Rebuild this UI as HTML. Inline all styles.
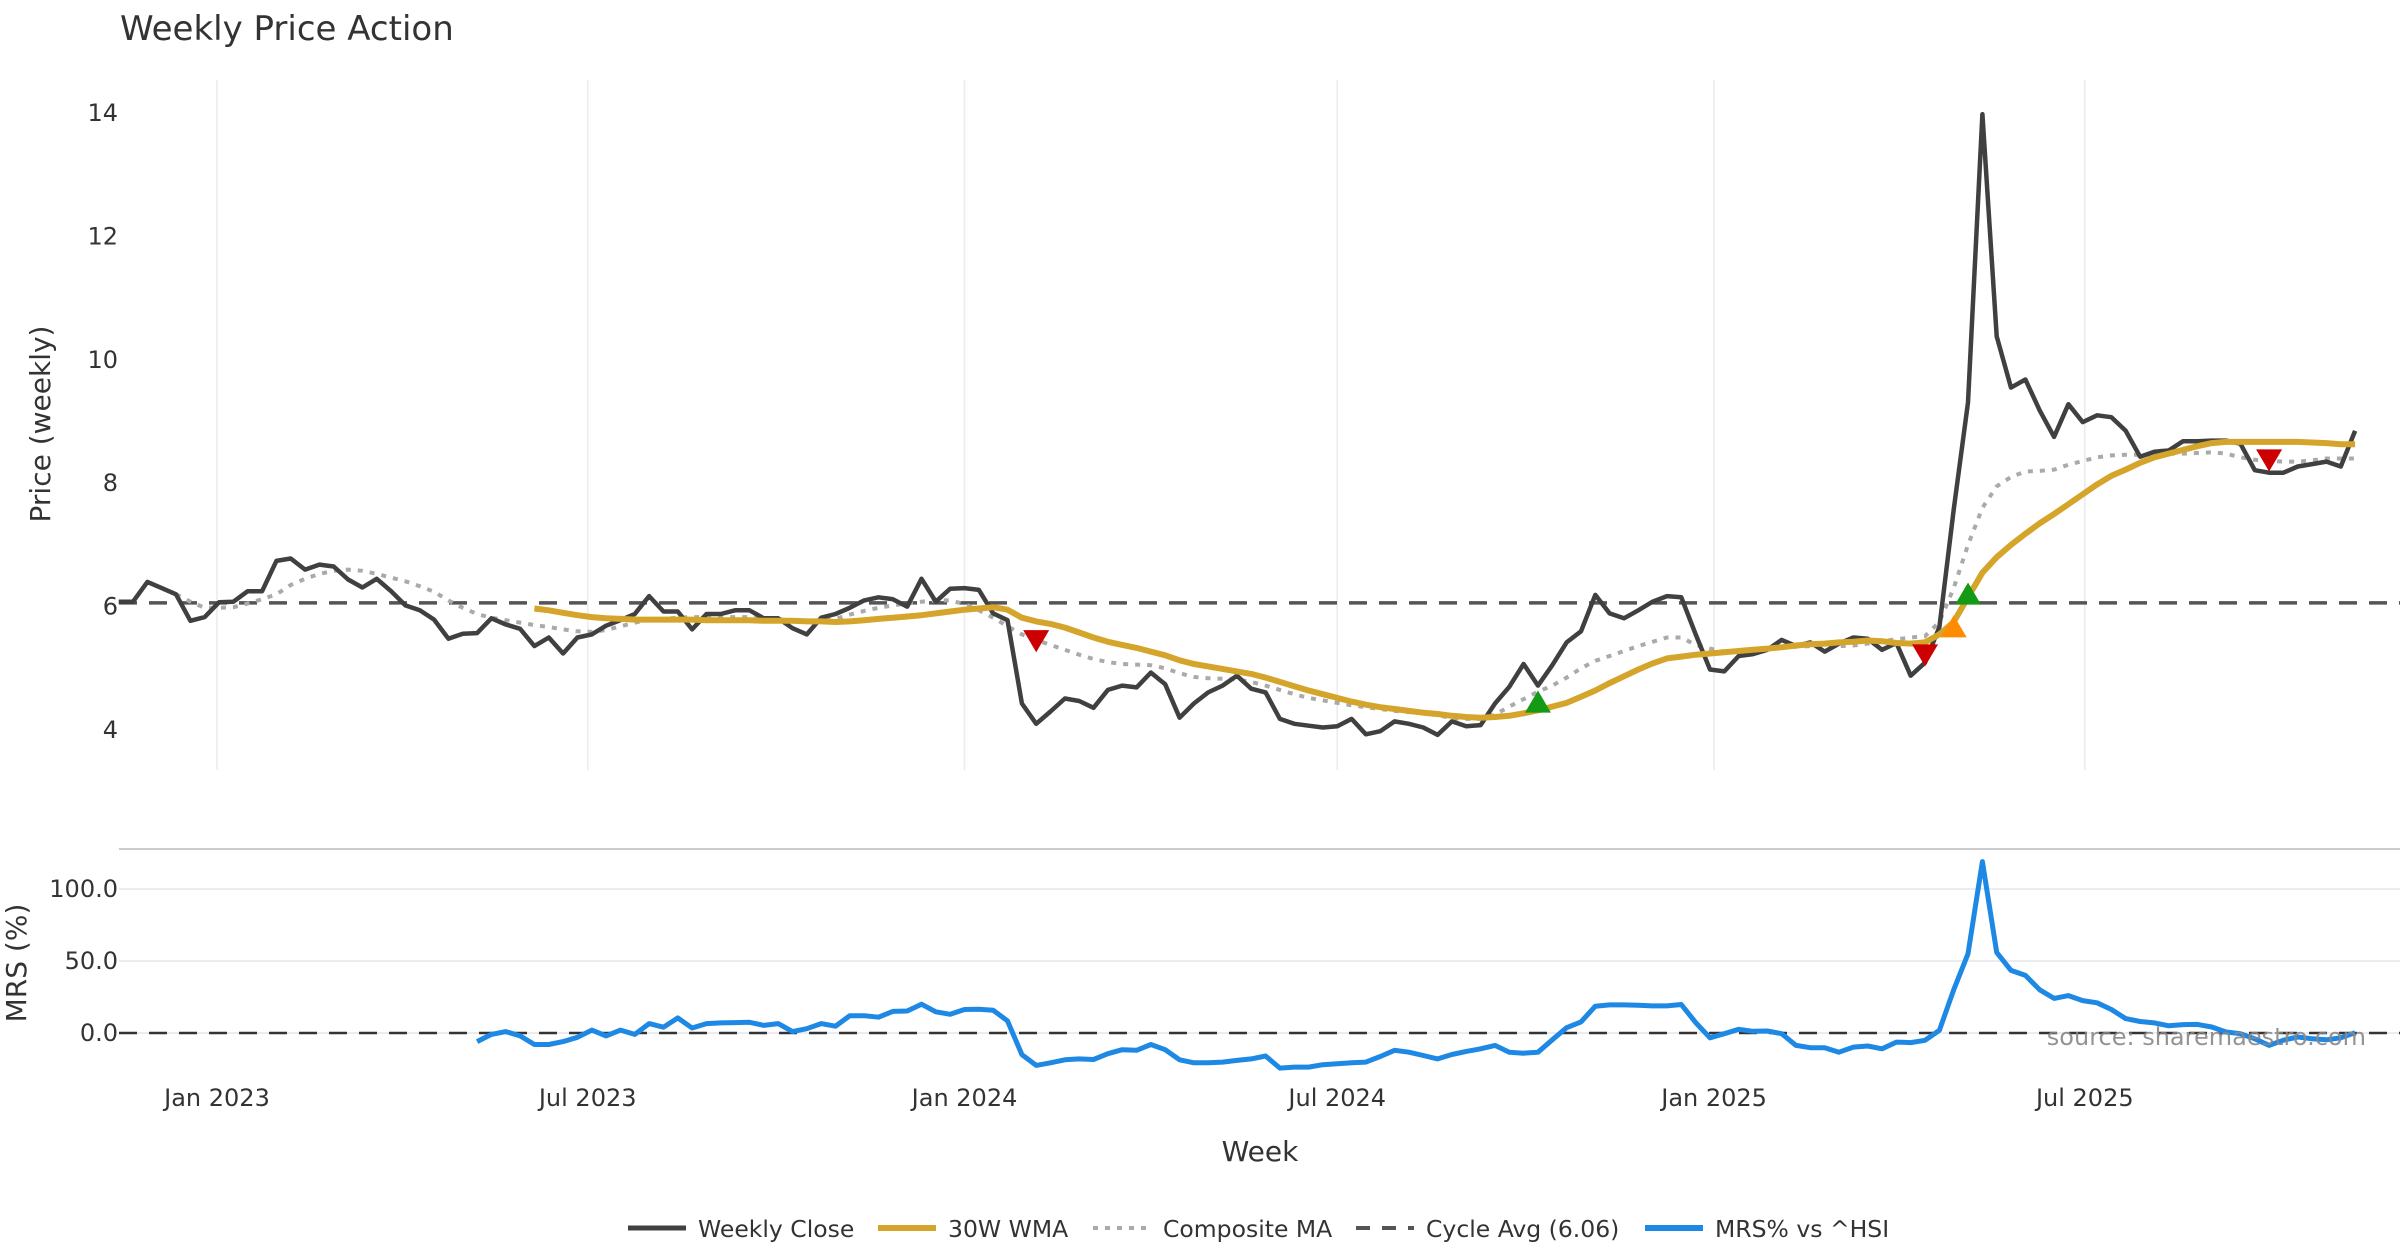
<!DOCTYPE html>
<html><head><meta charset="utf-8"><style>
html,body{margin:0;padding:0;background:#fff;}
svg{display:block;font-family:"DejaVu Sans","Liberation Sans",sans-serif;}
</style></head><body>
<svg id="chart" width="2400" height="1260" viewBox="0 0 2400 1260" xmlns="http://www.w3.org/2000/svg">
<rect x="0" y="0" width="2400" height="1260" fill="#fff"/>
<text x="120" y="40" font-size="34" fill="#333">Weekly Price Action</text>
<text transform="translate(50,424) rotate(-90)" text-anchor="middle" font-size="28" fill="#333">Price (weekly)</text>
<text transform="translate(26,963) rotate(-90)" text-anchor="middle" font-size="28" fill="#333">MRS (%)</text>
<text x="1260" y="1161" text-anchor="middle" font-size="28" fill="#333">Week</text>
<g id="grid"></g>
<g id="series"></g>
<g id="ticks"></g>
<text x="2366" y="1045" text-anchor="end" font-size="24" fill="#888" opacity="0.9">source: sharemaestro.com</text>
<g id="legend"></g>
</svg>
<script>
const startDate = Date.UTC(2022,10,14);
const closeVals = [6.08,6.08,6.4,6.3,6.2,5.77,5.83,6.07,6.08,6.25,6.25,6.74,6.78,6.6,6.68,6.65,6.44,6.31,6.45,6.25,6.02,5.94,5.79,5.48,5.56,5.57,5.81,5.71,5.64,5.36,5.5,5.24,5.5,5.55,5.69,5.78,5.88,6.17,5.92,5.92,5.63,5.88,5.88,5.94,5.94,5.81,5.81,5.65,5.55,5.82,5.88,5.98,6.1,6.15,6.12,6.0,6.45,6.08,6.29,6.3,6.27,5.89,5.78,4.43,4.1,4.3,4.51,4.47,4.36,4.65,4.72,4.69,4.93,4.74,4.2,4.43,
4.61,4.72,4.88,4.67,4.61,4.18,4.1,4.07,4.04,4.06,4.18,3.93,3.98,4.14,4.1,4.04,3.92,4.14,4.06,4.08,4.43,4.7,5.07,4.72,5.05,5.42,5.6,6.19,5.89,5.81,5.94,6.08,6.17,6.15,5.55,4.98,4.95,5.2,5.23,5.3,5.46,5.36,5.42,5.27,5.4,5.5,5.48,5.3,5.41,4.88,5.09,5.67,7.57,9.31,13.98,10.38,9.55,9.68,9.18,8.75,9.28,8.99,9.1,9.07,8.85,8.43,8.51,8.53,8.68,8.68,8.69,8.69,8.64,8.21,8.17,8.17,8.27,8.31,8.35,8.27,8.85];
const wmaStart = 29;
const wmaVals = [5.97,5.94,5.90,5.86,5.83,5.81,5.80,5.79,5.79,5.79,5.79,5.79,5.78,5.78,5.78,5.78,5.77,5.77,5.77,5.76,5.76,5.75,5.76,5.78,5.80,5.82,5.84,5.86,5.89,5.92,5.95,5.97,5.99,5.95,5.82,5.76,5.72,5.66,5.58,5.50,5.43,5.38,5.33,5.27,5.21,5.13,5.07,5.03,4.99,4.95,4.91,4.85,4.78,4.71,4.64,4.58,4.52,4.46,4.41,4.37,4.34,4.31,4.28,4.26,4.23,4.21,4.20,4.21,4.23,4.27,4.32,4.38,4.44,4.54,4.64,4.76,4.87,4.98,5.08,5.16,5.19,5.22,5.24,5.26,5.28,5.30,5.32,5.34,5.37,5.39,5.40,5.42,5.43,5.45,5.44,5.41,5.40,5.42,5.55,5.75,6.15,6.55,6.80,7.00,7.18,7.35,7.50,7.66,7.82,7.98,8.12,8.22,8.33,8.42,8.48,8.54,8.60,8.65,8.67,8.67,8.67,8.67,8.67,8.67,8.66,8.65,8.63,8.63];
const compStart = 4;
const compVals = [6.2,6.08,5.98,5.98,5.99,6.05,6.12,6.2,6.35,6.45,6.53,6.58,6.6,6.58,6.53,6.47,6.41,6.33,6.24,6.1,5.98,5.88,5.82,5.78,5.74,5.70,5.67,5.63,5.60,5.59,5.62,5.68,5.74,5.78,5.80,5.82,5.83,5.83,5.83,5.83,5.83,5.82,5.80,5.77,5.75,5.76,5.80,5.87,5.93,5.98,6.02,6.05,6.08,6.10,6.10,6.04,5.94,5.82,5.68,5.55,5.46,5.38,5.30,5.22,5.15,5.10,5.07,5.06,5.05,5.00,4.92,4.86,
4.84,4.83,4.82,4.78,4.72,4.65,4.58,4.52,4.48,4.44,4.40,4.37,4.34,4.31,4.29,4.27,4.24,4.19,4.18,4.18,4.25,4.38,4.50,4.62,4.72,4.85,5.0,5.12,5.2,5.28,5.36,5.43,5.50,5.50,5.38,5.32,5.27,5.28,5.30,5.32,5.34,5.35,5.36,5.36,5.36,5.37,5.40,5.44,5.47,5.5,5.52,5.75,6.3,7.0,7.6,7.95,8.1,8.19,8.2,8.22,8.3,8.36,8.42,8.45,8.46,8.46,8.47,8.48,8.48,8.49,8.50,8.48,8.42,8.38,8.36,8.35,8.35,8.37,8.40,8.40,8.40];
const mrsStart = 25;
const mrsVals = [-6,-1,1,-2,-8,-8,-6,-3,2,-2,2,-1,6.5,4,10.5,3.5,6.5,7,7.2,7.4,5.3,6.5,1,3,6.5,4.7,12,12,11,15,15.3,20,14.7,13,16.3,16.5,15.8,8.4,-15,-22.5,-20.7,-18.6,-18,-18.4,-14.4,-11.6,-12,-8,-11.6,-18.6,-20.7,
-20.7,-20.2,-19,-18,-16,-24.4,-23.7,-23.7,-22,-21.4,-20.7,-20.2,-16.3,-12,-13.3,-15.6,-18,-14.9,-12.8,-11,-8.6,-13.3,-14,-13.3,-4.7,3.7,7.7,18.6,19.5,19.5,19.3,18.8,18.8,19.8,7.2,-3.3,-0.5,2.6,1.2,1.4,-0.5,-8.6,-10.2,-10.2,-13.3,-9.8,-9,-11,-6.3,-6.7,-5.1,1.9,30,55,119,56,43.5,40,30,24,26,22.5,21,16.3,10,8,7,5,5.8,6,4.2,0.7,-0.5,-4,-8.6,-5,-2.8,-4,-4.7,-3.3,0.2];
const cycleAvg = 6.06;
const sellIdx = [64,126,150];
const sellVals = [5.45,5.22,8.38];
const buyIdx = [99,129];
const buyVals = [4.45,6.2];
const warnIdx = [128];
const warnVals = [5.67];
const priceTicks = [4,6,8,10,12,14];
const mrsTicks = [0,50,100];
const mrsTickLabels = ["0.0","50.0","100.0"];
const dateTicks = [Date.UTC(2023,0,1),Date.UTC(2023,6,1),Date.UTC(2024,0,1),Date.UTC(2024,6,1),Date.UTC(2025,0,1),Date.UTC(2025,6,1)];
const dateTickLabels = ["Jan 2023","Jul 2023","Jan 2024","Jul 2024","Jan 2025","Jul 2025"];

const NS="http://www.w3.org/2000/svg";
const DAY=86400000;
const X0=Date.UTC(2023,0,1);
function xDate(t){return 217+(t-X0)/DAY*2.048;}
function xIdx(i){return xDate(startDate+i*7*DAY);}
function yP(v){return 730-(v-4)*61.7;}
function yM(v){return 1033-v*1.44;}
function mk(tag,attrs,parent){const e=document.createElementNS(NS,tag);for(const k in attrs)e.setAttribute(k,attrs[k]);parent.appendChild(e);return e;}
const grid=document.getElementById('grid'),ser=document.getElementById('series'),tk=document.getElementById('ticks'),lg=document.getElementById('legend');

dateTicks.forEach((t,i)=>{
  const l=mk('line',{x1:xDate(t),x2:xDate(t),y1:80,y2:770,stroke:'#ebebf0','stroke-width':1.5},grid);
  
  
  const tx=mk('text',{x:xDate(t),y:1106,'text-anchor':'middle','font-size':24,fill:'#333'},tk);
  tx.textContent=dateTickLabels[i];
  
  
});
priceTicks.forEach(v=>{
  const tx=mk('text',{x:118,y:yP(v)+8,'text-anchor':'end','font-size':24,fill:'#333'},tk);
  tx.textContent=String(v);
  
  
});
mrsTicks.forEach((v,i)=>{
  const l=mk('line',{x1:119,x2:2400,y1:yM(v),y2:yM(v),stroke:'#ebebf2','stroke-width':2},grid);
  
  
  const tx=mk('text',{x:118,y:yM(v)+8,'text-anchor':'end','font-size':24,fill:'#333'},tk);
  tx.textContent=mrsTickLabels[i];
  
  
});
const sep=mk('line',{x1:119,x2:2400,y1:849,y2:849,stroke:'#ccc','stroke-width':2},grid);



const cyc=mk('line',{x1:119,x2:2400,y1:yP(cycleAvg),y2:yP(cycleAvg),stroke:'#555','stroke-width':3.5,'stroke-dasharray':'18,12'},ser);


const zl=mk('line',{x1:119,x2:2400,y1:yM(0),y2:yM(0),stroke:'#333','stroke-width':2.5,'stroke-dasharray':'18,12'},ser);



function pts(vals,start,yf){return vals.map((v,i)=>xIdx(start+i).toFixed(1)+','+yf(v).toFixed(1)).join(' ');}
const comp=mk('polyline',{points:pts(compVals,compStart,yP),fill:'none',stroke:'#aaaaaa','stroke-width':4,'stroke-dasharray':'5,7'},ser);


const cl=mk('polyline',{points:pts(closeVals,0,yP),fill:'none',stroke:'#404040','stroke-width':4.5,'stroke-linejoin':'round'},ser);


const wma=mk('polyline',{points:pts(wmaVals,wmaStart,yP),fill:'none',stroke:'#D4A52A','stroke-width':6,'stroke-linejoin':'round'},ser);


const mrs=mk('polyline',{points:pts(mrsVals,mrsStart,yM),fill:'none',stroke:'#1E88E5','stroke-width':5,'stroke-linejoin':'round'},ser);



function tri(x,y,up,color,name){
  const s=13;
  const p=up?`${x-s},${y+s*0.8} ${x+s},${y+s*0.8} ${x},${y-s*0.9}`:`${x-s},${y-s*0.8} ${x+s},${y-s*0.8} ${x},${y+s*0.9}`;
  const e=mk('polygon',{points:p,fill:color},ser);
  
  
}
sellIdx.forEach((d,i)=>tri(xIdx(d),yP(sellVals[i]),false,'#CC0000','sell-signal-marker'));
buyIdx.forEach((d,i)=>tri(xIdx(d),yP(buyVals[i]),true,'#149A14','buy-signal-marker'));
warnIdx.forEach((d,i)=>tri(xIdx(d),yP(warnVals[i]),true,'#FF8C00','warning-signal-marker'));

const legendItems=[
 {x:628,label:'Weekly Close',stroke:'#404040',w:5,dash:null,name:'legend-weekly-close'},
 {x:878,label:'30W WMA',stroke:'#D4A52A',w:6,dash:null,name:'legend-30w-wma'},
 {x:1093,label:'Composite MA',stroke:'#aaaaaa',w:4,dash:'5,7',name:'legend-composite-ma'},
 {x:1356,label:'Cycle Avg (6.06)',stroke:'#555',w:4,dash:'14,12',name:'legend-cycle-avg'},
 {x:1645,label:'MRS% vs ^HSI',stroke:'#1E88E5',w:6,dash:null,name:'legend-mrs'}
];
legendItems.forEach(it=>{
  const g=mk('g',{},lg);
  
  
  const a={x1:it.x,x2:it.x+58,y1:1228,y2:1228,stroke:it.stroke,'stroke-width':it.w};
  if(it.dash)a['stroke-dasharray']=it.dash;
  mk('line',a,g);
  const t=mk('text',{x:it.x+70,y:1237,'font-size':23.5,fill:'#333'},g);
  t.textContent=it.label;
});
</script>
</body></html>
